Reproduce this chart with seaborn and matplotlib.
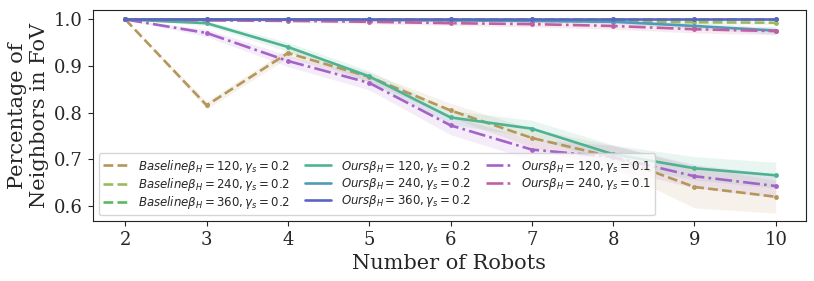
import matplotlib
matplotlib.use("Agg")
import numpy as np
import seaborn as sns
import matplotlib.pyplot as plt

robots = [2, 3, 4, 5, 6, 7, 8, 9, 10]

base_120 = [1.0, 0.816, 0.928, 0.877, 0.805, 0.746, 0.705, 0.641, 0.620]
base_240 = [1.0, 1.0, 1.0, 0.999, 0.998, 0.997, 0.996, 0.994, 0.993]
base_360 = [1.0, 1.0, 1.0, 1.0, 1.0, 1.0, 1.0, 1.0, 1.0]
ours_120 = [1.0, 0.992, 0.941, 0.878, 0.790, 0.766, 0.711, 0.681, 0.666]
ours_240 = [1.0, 1.0, 1.0, 0.999, 0.998, 0.997, 0.995, 0.986, 0.976]
ours_360 = [1.0, 1.0, 1.0, 1.0, 1.0, 1.0, 1.0, 1.0, 1.0]
ours_120_g01 = [1.0, 0.971, 0.911, 0.864, 0.773, 0.721, 0.705, 0.664, 0.643]
ours_240_g01 = [1.0, 0.998, 0.997, 0.995, 0.992, 0.990, 0.986, 0.979, 0.975]

# spread of the shaded bands
sd_base_120 = [0, 0.008, 0.010, 0.010, 0.015, 0.020, 0.025, 0.045, 0.035]
sd_base_240 = [0, 0.001, 0.001, 0.002, 0.002, 0.003, 0.003, 0.004, 0.004]
sd_base_360 = [0, 0, 0, 0, 0, 0, 0, 0, 0]
sd_ours_120 = [0, 0.005, 0.010, 0.012, 0.015, 0.018, 0.020, 0.025, 0.028]
sd_ours_240 = [0, 0.001, 0.001, 0.002, 0.002, 0.003, 0.004, 0.006, 0.008]
sd_ours_360 = [0, 0, 0, 0, 0, 0, 0, 0, 0]
sd_ours_120_g01 = [0, 0.008, 0.012, 0.015, 0.020, 0.022, 0.025, 0.025, 0.025]
sd_ours_240_g01 = [0, 0.002, 0.003, 0.004, 0.005, 0.006, 0.007, 0.008, 0.008]

labels = [
    r"$Baseline\beta_H=120, \gamma_s=0.2$",
    r"$Baseline\beta_H=240, \gamma_s=0.2$",
    r"$Baseline\beta_H=360, \gamma_s=0.2$",
    r"$Ours\beta_H=120, \gamma_s=0.2$",
    r"$Ours\beta_H=240, \gamma_s=0.2$",
    r"$Ours\beta_H=360, \gamma_s=0.2$",
    r"$Ours\beta_H=120, \gamma_s=0.1$",
    r"$Ours\beta_H=240, \gamma_s=0.1$",
]
series = [base_120, base_240, base_360, ours_120, ours_240, ours_360, ours_120_g01, ours_240_g01]
spreads = [sd_base_120, sd_base_240, sd_base_360, sd_ours_120, sd_ours_240, sd_ours_360,
           sd_ours_120_g01, sd_ours_240_g01]
styles = ["--", "--", "--", "-", "-", "-", "-.", "-."]
colors = ["#b5965b", "#9cba5c", "#5ab861", "#4fb393", "#4f9bb8", "#5b65c3", "#a563c9", "#c25fa3"]

sns.set_style("ticks")
plt.rcParams['font.family'] = 'DejaVu Serif'
plt.rcParams['mathtext.fontset'] = 'dejavusans'

fig, ax = plt.subplots(figsize=(8.14, 2.81), dpi=100)
fig.subplots_adjust(left=0.114, right=0.990, top=0.964, bottom=0.2135)

# draw in order so the flat lines at 1.0 end up on top
for i in [0, 3, 6, 1, 4, 7, 2, 5]:
    vals = np.array(series[i])
    sd = np.array(spreads[i])
    ax.fill_between(robots, vals - sd, vals + sd, color=colors[i], alpha=0.12, linewidth=0)
    sns.lineplot(x=robots, y=vals, ax=ax, color=colors[i], linestyle=styles[i],
                 linewidth=1.9, marker='o', markersize=3.5, markeredgewidth=0,
                 label=labels[i])

ax.set_xlim(1.6, 10.37)
ax.set_ylim(0.568, 1.02)
ax.set_xticks(robots)
ax.set_yticks([0.6, 0.7, 0.8, 0.9, 1.0])
ax.tick_params(labelsize=13)
ax.set_xlabel("Number of Robots", fontsize=15)
ax.set_ylabel("Percentage of\nNeighbors in FoV", fontsize=15)
for s in ax.spines.values():
    s.set_color("#222222")

handles, labs = ax.get_legend_handles_labels()
order = [labs.index(l) for l in labels]
leg = ax.legend([handles[k] for k in order], [labs[k] for k in order], ncol=3,
                loc="lower left", fontsize=8.5, frameon=True, handlelength=2.2,
                columnspacing=1.3, borderpad=0.35, labelspacing=0.1)
for h in leg.get_lines():
    h.set_marker('')

fig.savefig("out.png", dpi=100)
